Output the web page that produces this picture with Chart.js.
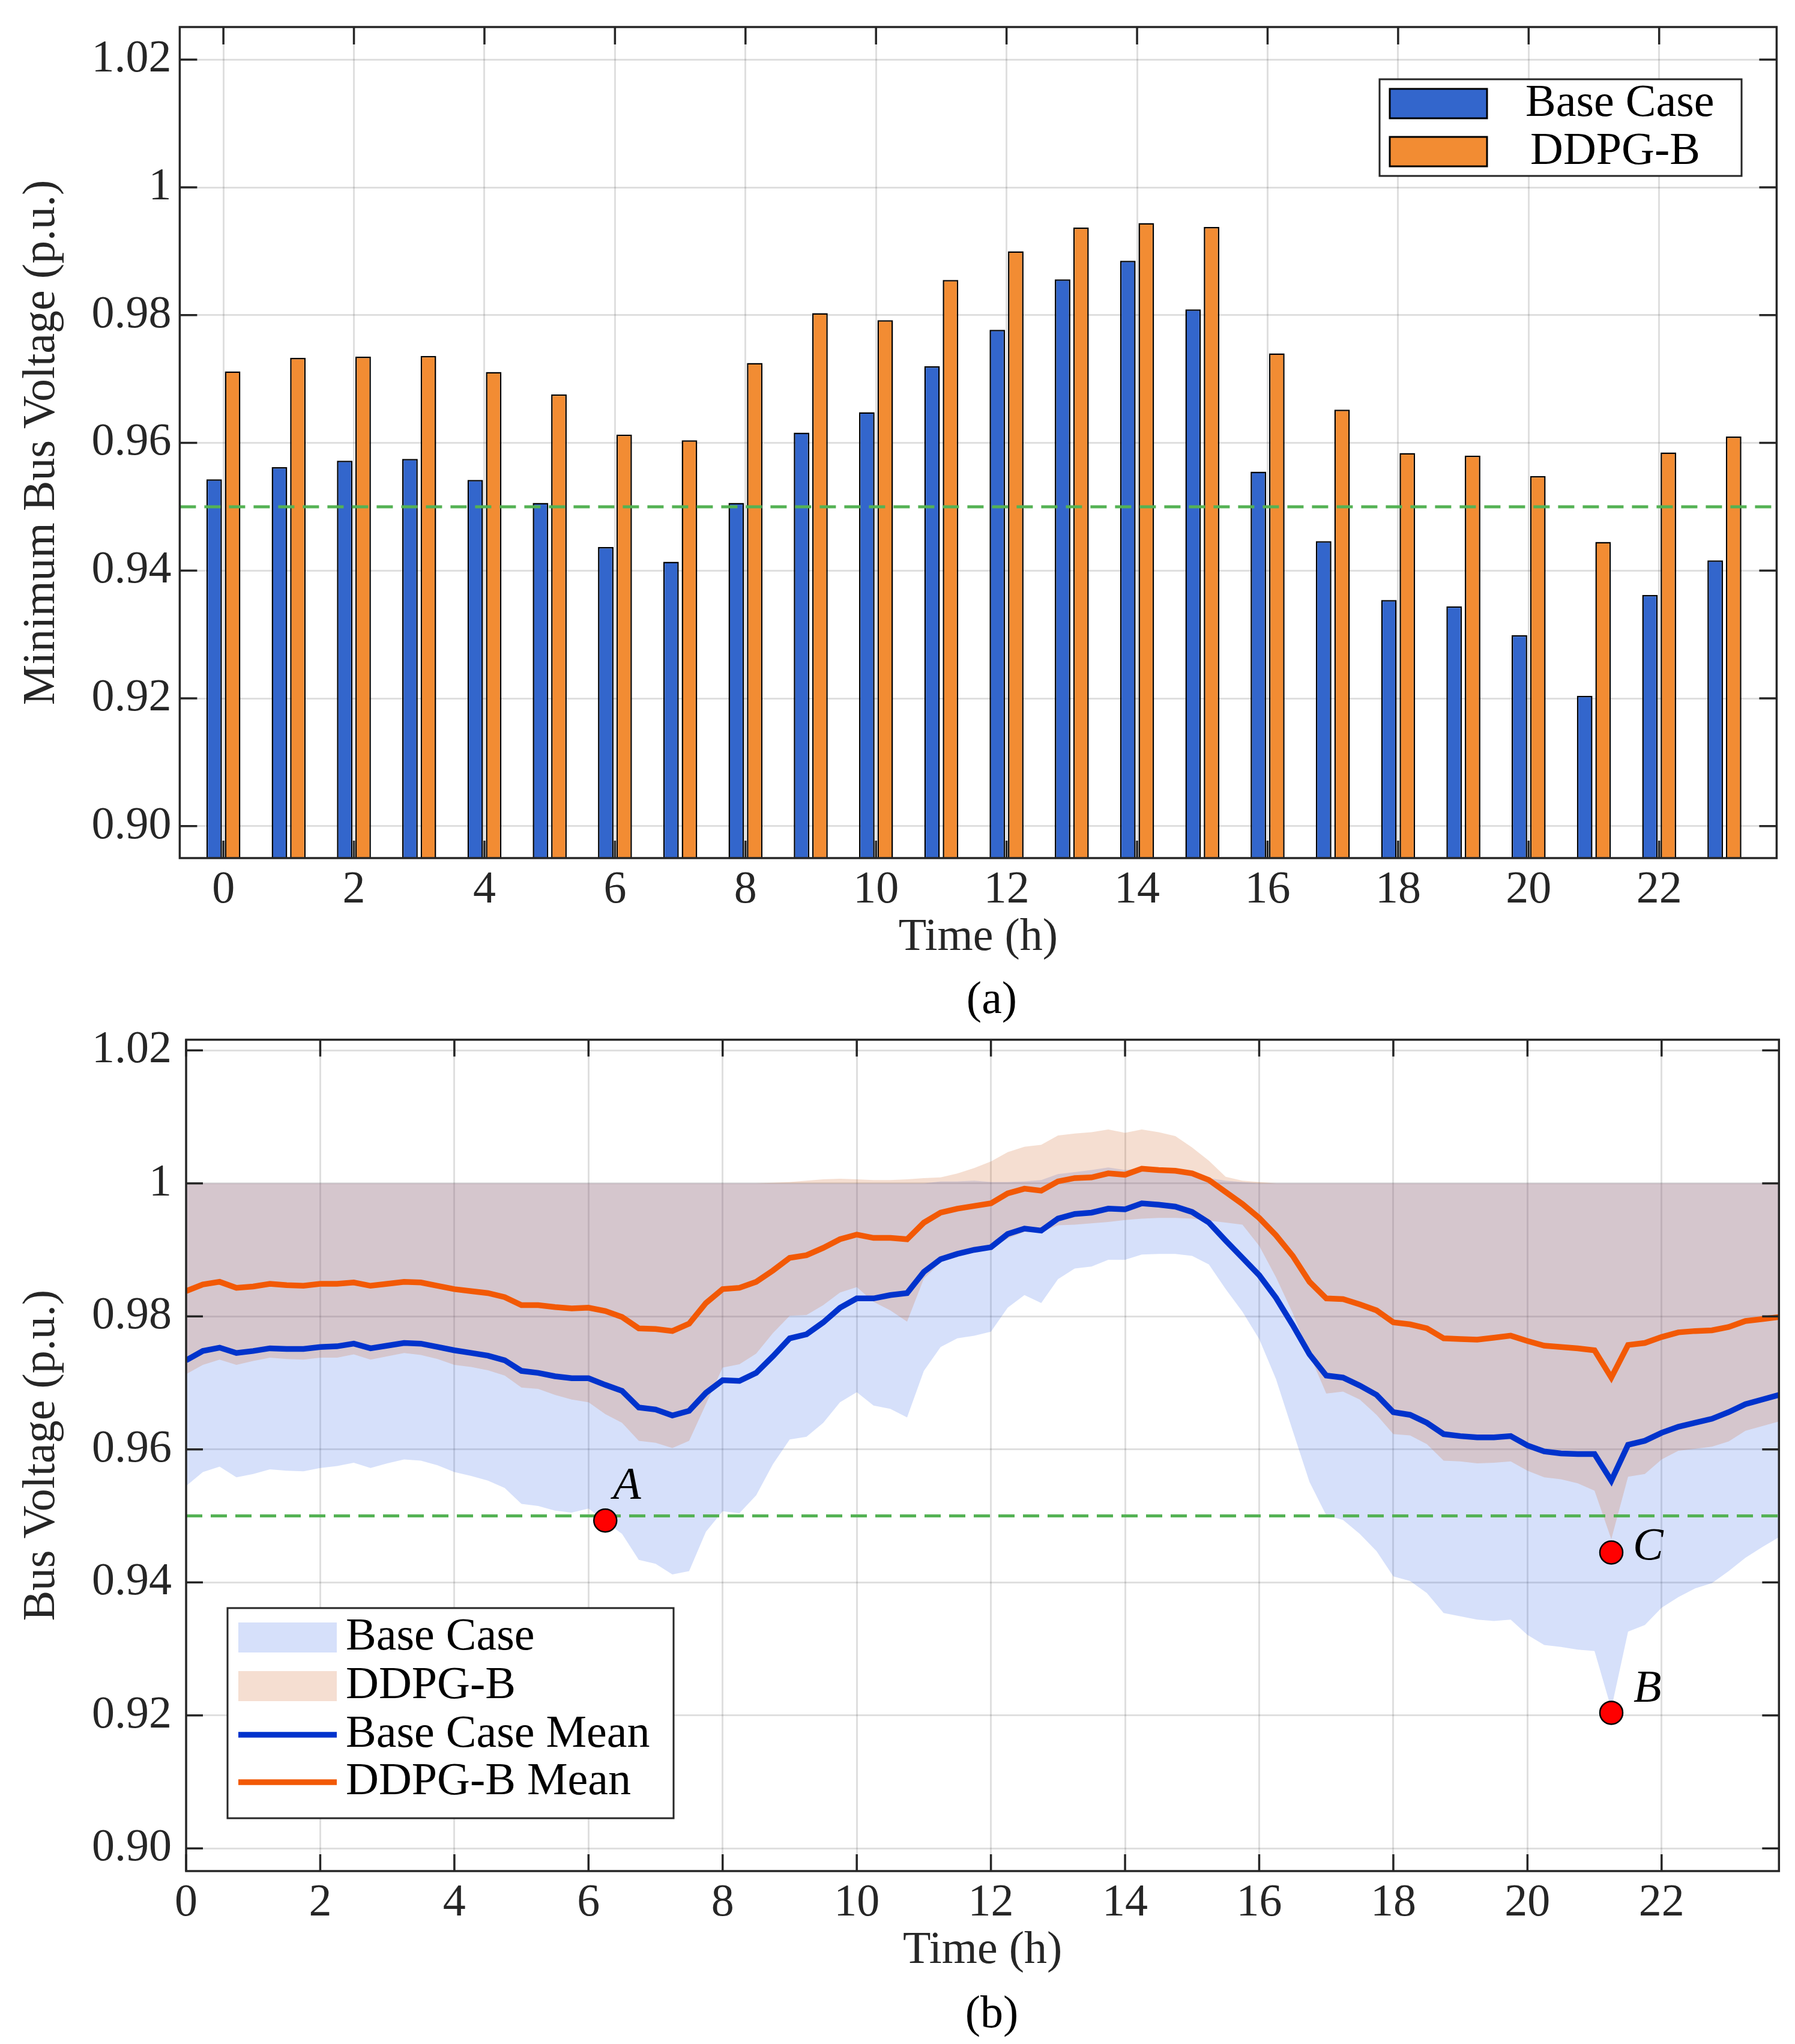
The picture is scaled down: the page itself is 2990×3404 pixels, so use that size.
<!DOCTYPE html>
<html>
<head>
<meta charset="utf-8">
<title>Minimum bus voltage and bus voltage bands</title>
<script src="https://cdn.jsdelivr.net/npm/chart.js@4.4.1/dist/chart.umd.min.js"></script>
<style>
  html, body { margin: 0; padding: 0; background: #ffffff; }
  #wrapA { position: absolute; left: 0; top: 0; width: 2990px; height: 1710px; }
  #wrapB { position: absolute; left: 0; top: 1710px; width: 2990px; height: 1694px; }
  canvas { display: block; }
</style>
</head>
<body>
<div id="wrapA"><canvas id="chartA"></canvas></div>
<div id="wrapB"><canvas id="chartB"></canvas></div>
<script>
// ---------------- DATA ----------------
// (a) hourly minimum bus voltage
const barHours = [0,1,2,3,4,5,6,7,8,9,10,11,12,13,14,15,16,17,18,19,20,21,22,23];
const baseMinV = [0.9543,0.9562,0.9572,0.9575,0.9542,0.9506,0.9437,0.9414,0.9506,0.9616,0.9648,0.9720,
                  0.9777,0.9856,0.9885,0.9809,0.9555,0.9446,0.9354,0.9344,0.9299,0.9204,0.9362,0.9416];
const ddpgMinV = [0.9712,0.9733,0.9735,0.9736,0.9711,0.9676,0.9613,0.9604,0.9725,0.9803,0.9792,0.9855,
                  0.9900,0.9937,0.9944,0.9938,0.9740,0.9652,0.9584,0.9580,0.9548,0.9445,0.9585,0.9610];

// (b) 15-minute bus voltage statistics
const hours = [0,0.25,0.5,0.75,1,1.25,1.5,1.75,2,2.25,2.5,2.75,3,3.25,3.5,3.75,
               4,4.25,4.5,4.75,5,5.25,5.5,5.75,6,6.25,6.5,6.75,7,7.25,7.5,7.75,
               8,8.25,8.5,8.75,9,9.25,9.5,9.75,10,10.25,10.5,10.75,11,11.25,11.5,11.75,
               12,12.25,12.5,12.75,13,13.25,13.5,13.75,14,14.25,14.5,14.75,15,15.25,15.5,15.75,
               16,16.25,16.5,16.75,17,17.25,17.5,17.75,18,18.25,18.5,18.75,19,19.25,19.5,19.75,
               20,20.25,20.5,20.75,21,21.25,21.5,21.75,22,22.25,22.5,22.75,23,23.25,23.5,23.75];

const baseMean = [0.9734,0.9748,0.9753,0.9745,0.9748,0.9752,0.9751,0.9751,
                  0.9754,0.9755,0.9759,0.9752,0.9756,0.9760,0.9759,0.9754,
                  0.9749,0.9745,0.9741,0.9734,0.9718,0.9715,0.9710,0.9707,
                  0.9707,0.9697,0.9688,0.9663,0.9660,0.9651,0.9658,0.9685,
                  0.9704,0.9703,0.9715,0.9740,0.9767,0.9773,0.9791,0.9813,
                  0.9827,0.9827,0.9832,0.9835,0.9867,0.9886,0.9894,0.9900,
                  0.9904,0.9924,0.9932,0.9929,0.9947,0.9954,0.9956,0.9962,
                  0.9961,0.9970,0.9968,0.9965,0.9957,0.9941,0.9914,0.9888,
                  0.9862,0.9828,0.9787,0.9743,0.9711,0.9708,0.9696,0.9682,
                  0.9656,0.9652,0.9640,0.9623,0.9620,0.9618,0.9618,0.9620,
                  0.9606,0.9597,0.9594,0.9593,0.9593,0.9553,0.9607,0.9613,
                  0.9625,0.9634,0.9640,0.9646,0.9656,0.9668,0.9675,0.9682];

const ddpgMean = [0.9838,0.9848,0.9852,0.9843,0.9845,0.9849,0.9847,0.9846,
                  0.9849,0.9849,0.9851,0.9846,0.9849,0.9852,0.9851,0.9846,
                  0.9841,0.9838,0.9835,0.9829,0.9817,0.9817,0.9814,0.9812,
                  0.9813,0.9808,0.9799,0.9782,0.9781,0.9778,0.9789,0.9820,
                  0.9841,0.9843,0.9852,0.9869,0.9888,0.9892,0.9903,0.9916,
                  0.9923,0.9918,0.9918,0.9916,0.9941,0.9956,0.9962,0.9966,
                  0.9970,0.9985,0.9992,0.9989,1.0003,1.0008,1.0009,1.0015,
                  1.0013,1.0022,1.0020,1.0019,1.0015,1.0005,0.9987,0.9969,
                  0.9948,0.9922,0.9891,0.9852,0.9827,0.9826,0.9818,0.9809,
                  0.9791,0.9788,0.9782,0.9767,0.9766,0.9765,0.9768,0.9771,
                  0.9763,0.9756,0.9754,0.9752,0.9749,0.9708,0.9757,0.9760,
                  0.9769,0.9776,0.9778,0.9779,0.9784,0.9793,0.9796,0.9799];

const baseUpper = [1,1,1,1,1,1,1,1, 1,1,1,1,1,1,1,1,
                   1,1,1,1,1,1,1,1, 1,1,1,1,1,1,1,1,
                   1,1,1,1,1,1,1,1, 1,1,1,1,1,1.0003,1.0003,1.0004,
                   1.0002,1.0002,1.0003,1.0005,1.0014,1.0017,1.0020,1.0024,
                   1.0020,1.0023,1.0021,1.0019,1.0014,1.0008,1.0004,1.0002,
                   1,1,1,1,1,1,1,1, 1,1,1,1,1,1,1,1,
                   1,1,1,1,1,1,1,1, 1,1,1,1,1,1,1,1];

const baseLower = [0.9545,0.9566,0.9574,0.9558,0.9563,0.9570,0.9568,0.9567,
                   0.9572,0.9575,0.9580,0.9572,0.9579,0.9585,0.9583,0.9576,
                   0.9566,0.9560,0.9553,0.9542,0.9518,0.9515,0.9508,0.9505,
                   0.9511,0.9492,0.9473,0.9434,0.9428,0.9412,0.9417,0.9476,
                   0.9507,0.9504,0.9531,0.9578,0.9615,0.9619,0.9640,0.9671,
                   0.9686,0.9666,0.9661,0.9648,0.9718,0.9754,0.9767,0.9771,
                   0.9777,0.9813,0.9832,0.9820,0.9856,0.9872,0.9875,0.9885,
                   0.9885,0.9893,0.9894,0.9894,0.9891,0.9878,0.9841,0.9807,
                   0.9766,0.9706,0.9628,0.9551,0.9501,0.9494,0.9473,0.9447,
                   0.9409,0.9402,0.9384,0.9354,0.9349,0.9344,0.9342,0.9344,
                   0.9321,0.9306,0.9303,0.9299,0.9297,0.9210,0.9326,0.9336,
                   0.9362,0.9378,0.9391,0.9399,0.9417,0.9437,0.9453,0.9468];

const ddpgUpper = [1,1,1,1,1,1,1,1, 1,1,1,1,1,1,1,1,
                   1,1,1,1,1,1,1,1, 1,1,1,1,1,1,1,1,
                   1,1,1,1.0001,1.0002,1.0004,1.0006,1.0007,
                   1.0006,1.0005,1.0005,1.0006,1.0008,1.0009,1.0015,1.0023,
                   1.0033,1.0047,1.0055,1.0058,1.0072,1.0075,1.0077,1.0081,
                   1.0076,1.0081,1.0077,1.0071,1.0054,1.0034,1.0010,1.0004,
                   1.0002,1,1,1,1,1,1,1, 1,1,1,1,1,1,1,1,
                   1,1,1,1,1,1,1,1, 1,1,1,1,1,1,1,1];

const ddpgLower = [0.9713,0.9727,0.9735,0.9727,0.9733,0.9738,0.9736,0.9735,
                   0.9738,0.9738,0.9743,0.9735,0.9740,0.9745,0.9742,0.9736,
                   0.9727,0.9724,0.9719,0.9711,0.9693,0.9691,0.9682,0.9675,
                   0.9671,0.9653,0.9640,0.9613,0.9610,0.9602,0.9613,0.9668,
                   0.9723,0.9728,0.9744,0.9775,0.9801,0.9802,0.9817,0.9836,
                   0.9844,0.9822,0.9809,0.9792,0.9857,0.9881,0.9892,0.9897,
                   0.9902,0.9917,0.9927,0.9927,0.9937,0.9938,0.9940,0.9942,
                   0.9945,0.9947,0.9948,0.9948,0.9947,0.9944,0.9941,0.9938,
                   0.9906,0.9859,0.9805,0.9743,0.9684,0.9687,0.9675,0.9652,
                   0.9623,0.9621,0.9608,0.9583,0.9582,0.9579,0.9580,0.9582,
                   0.9568,0.9558,0.9555,0.9549,0.9538,0.9465,0.9559,0.9563,
                   0.9585,0.9598,0.9601,0.9604,0.9612,0.9628,0.9635,0.9642];

// marked points A, B, C
const markerLabels = ['A', 'B', 'C'];
const markerX = [6.25, 21.25, 21.25];
const markerY = [0.9493, 0.9204, 0.9445];

// limits / ticks
const V_LIMIT = 0.95;
const xRangeA = [-0.669, 23.80];
const xRangeB = [0, 23.75];
const yRangeA = [0.895, 1.0251];
const yRangeB = [0.8966, 1.0216];
const xTickValues = [0, 2, 4, 6, 8, 10, 12, 14, 16, 18, 20, 22];
const yTickValues = [0.90, 0.92, 0.94, 0.96, 0.98, 1.00, 1.02];
const yTickLabels = ['0.90', '0.92', '0.94', '0.96', '0.98', '1', '1.02'];

// ---------------- STYLE ----------------
const FAMILY = "'Liberation Serif', 'Times New Roman', serif";
const INK = '#262626';
const GRID = 'rgba(38,38,38,0.15)';
const GREEN = 'rgb(84,178,84)';
const BAR_BLUE = '#3366CC';
const BAR_ORANGE = '#F28C33';
const MEAN_BLUE = '#0033CC';
const MEAN_ORANGE = '#F25905';
const BAND_BLUE = 'rgba(51,102,230,0.2)';
const BAND_ORANGE = 'rgba(204,89,26,0.2)';
const FS = 76;

Chart.defaults.font.family = FAMILY;
Chart.defaults.font.size = FS;
Chart.defaults.color = INK;

function zeroPad(s) { s.paddingTop = 0; s.paddingBottom = 0; s.paddingLeft = 0; s.paddingRight = 0; }
function xy(xs, ys) { return xs.map((x, i) => ({ x: x, y: ys[i] })); }

// MATLAB-like frame, inward ticks on four sides, legend, captions and point labels
const matlabFrame = {
  id: 'matlabFrame',
  afterDatasetsDraw(chart, args, o) {
    const { ctx, chartArea: a } = chart;
    const xs = chart.scales.x, ys = chart.scales.y;
    ctx.save();
    ctx.strokeStyle = INK;
    ctx.lineWidth = 3.5;
    ctx.lineCap = 'butt';
    ctx.beginPath();
    const L = o.tickLen;
    xs.ticks.forEach(t => {
      const px = xs.getPixelForValue(t.value);
      ctx.moveTo(px, a.bottom); ctx.lineTo(px, a.bottom - L);
      ctx.moveTo(px, a.top); ctx.lineTo(px, a.top + L);
    });
    ys.ticks.forEach(t => {
      const py = ys.getPixelForValue(t.value);
      ctx.moveTo(a.left, py); ctx.lineTo(a.left + L, py);
      ctx.moveTo(a.right, py); ctx.lineTo(a.right - L, py);
    });
    ctx.stroke();
    ctx.strokeRect(a.left, a.top, a.right - a.left, a.bottom - a.top);
    ctx.restore();
  },
  afterDraw(chart, args, o) {
    const ctx = chart.ctx;
    ctx.save();
    // point labels
    if (o.pointLabels) {
      const meta = chart.getDatasetMeta(o.pointLabels.dataset);
      ctx.font = 'italic ' + FS + 'px ' + FAMILY;
      ctx.fillStyle = '#000';
      ctx.textAlign = 'left';
      ctx.textBaseline = 'alphabetic';
      o.pointLabels.texts.forEach((txt, i) => {
        const el = meta.data[i];
        const off = o.pointLabels.offsets[i];
        ctx.fillText(txt, el.x + off[0], el.y + off[1]);
      });
    }
    // legend
    if (o.legend) {
      const g = o.legend;
      ctx.fillStyle = '#ffffff';
      ctx.fillRect(g.box[0], g.box[1], g.box[2], g.box[3]);
      g.items.forEach(it => {
        const ds = chart.data.datasets[it.ds];
        if (it.kind === 'bar') {
          ctx.fillStyle = ds.backgroundColor;
          ctx.fillRect(it.sw[0], it.sw[1], it.sw[2], it.sw[3]);
          ctx.strokeStyle = '#000';
          ctx.lineWidth = 3;
          ctx.strokeRect(it.sw[0], it.sw[1], it.sw[2], it.sw[3]);
        } else if (it.kind === 'band') {
          ctx.fillStyle = ds.backgroundColor;
          ctx.fillRect(it.sw[0], it.sw[1], it.sw[2], it.sw[3]);
        } else {
          ctx.strokeStyle = ds.borderColor;
          ctx.lineWidth = ds.borderWidth;
          ctx.beginPath();
          ctx.moveTo(it.sw[0], it.sw[1]);
          ctx.lineTo(it.sw[0] + it.sw[2], it.sw[1]);
          ctx.stroke();
        }
        ctx.fillStyle = '#000';
        ctx.font = FS + 'px ' + FAMILY;
        ctx.textAlign = 'left';
        ctx.textBaseline = 'middle';
        ctx.fillText(ds.label, it.tx, it.ty);
      });
      ctx.strokeStyle = INK;
      ctx.lineWidth = 3;
      ctx.strokeRect(g.box[0], g.box[1], g.box[2], g.box[3]);
    }
    // caption
    if (o.caption) {
      ctx.fillStyle = '#000';
      ctx.font = FS + 'px ' + FAMILY;
      ctx.textAlign = 'center';
      ctx.textBaseline = 'middle';
      ctx.fillText(o.caption.text, o.caption.x, o.caption.y);
    }
    ctx.restore();
  }
};

function yScale(range, width, pad) {
  return {
    type: 'linear', position: 'left', min: range[0], max: range[1],
    afterBuildTicks: s => { s.ticks = yTickValues.map(v => ({ value: v })); },
    afterFit: s => { s.width = width; zeroPad(s); },
    grid: { color: GRID, lineWidth: 3, drawTicks: false },
    border: { display: false },
    ticks: { padding: pad, color: INK, font: { size: FS, lineHeight: 1 }, autoSkip: false,
             callback: (v, i) => yTickLabels[i] },
    title: { display: true, color: INK, font: { size: FS, lineHeight: 1.2 }, padding: { top: 24, bottom: 0 } }
  };
}
function xScale(range, height, pad) {
  return {
    type: 'linear', position: 'bottom', min: range[0], max: range[1], offset: false,
    afterBuildTicks: s => { s.ticks = xTickValues.map(v => ({ value: v })); },
    afterFit: s => { s.height = height; zeroPad(s); },
    grid: { color: GRID, lineWidth: 3, drawTicks: false, offset: false },
    border: { display: false },
    ticks: { padding: pad, color: INK, font: { size: FS, lineHeight: 1 }, autoSkip: false, maxRotation: 0,
             callback: v => String(v) },
    title: { display: true, text: 'Time (h)', color: INK, font: { size: FS, lineHeight: 1.2 }, padding: { top: 0, bottom: 0 } }
  };
}

// ---------------- CHART (a) ----------------
const sxA = xScale(xRangeA, 178.6, 16);
const syA = yScale(yRangeA, 299.4, 14);
syA.title.text = 'Minimum Bus Voltage (p.u.)';

new Chart(document.getElementById('chartA'), {
  type: 'bar',
  data: {
    datasets: [
      { type: 'line', label: 'Voltage limit', data: [{ x: xRangeA[0], y: V_LIMIT }, { x: xRangeA[1], y: V_LIMIT }],
        borderColor: GREEN, borderWidth: 5, borderDash: [27, 14], pointRadius: 0, order: 0 },
      { label: 'Base Case', data: xy(barHours, baseMinV), backgroundColor: BAR_BLUE, borderColor: '#000',
        borderWidth: 2.5, categoryPercentage: 0.565, barPercentage: 0.843, order: 1 },
      { label: 'DDPG-B', data: xy(barHours, ddpgMinV), backgroundColor: BAR_ORANGE, borderColor: '#000',
        borderWidth: 2.5, categoryPercentage: 0.565, barPercentage: 0.843, order: 2 }
    ]
  },
  options: {
    responsive: true, maintainAspectRatio: false, animation: false,
    layout: { padding: { left: 0, right: 30.6, top: 45, bottom: 102.4 } },
    plugins: {
      legend: { display: false }, tooltip: { enabled: false },
      matlabFrame: {
        tickLen: 29,
        legend: { box: [2298, 132, 603, 161], items: [
          { ds: 1, kind: 'bar', sw: [2315, 148, 162, 49], tx: 2541, ty: 173 },
          { ds: 2, kind: 'bar', sw: [2315, 228, 162, 49], tx: 2549, ty: 253 } ] },
        caption: { text: '(a)', x: 1652, y: 1667 }
      }
    },
    scales: { x: sxA, y: syA }
  },
  plugins: [matlabFrame]
});

// ---------------- CHART (b) ----------------
const sxB = xScale(xRangeB, 178.6, 16);
const syB = yScale(yRangeB, 310, 24);
syB.title.text = 'Bus Voltage (p.u.)';

new Chart(document.getElementById('chartB'), {
  type: 'line',
  data: {
    datasets: [
      { label: 'Marked points', data: xy(markerX, markerY), showLine: false, pointRadius: 19,
        pointBackgroundColor: '#FF0000', pointBorderColor: '#000', pointBorderWidth: 2.5, order: 0 },
      { label: 'Base Case Mean', data: xy(hours, baseMean), borderColor: MEAN_BLUE, borderWidth: 9.5,
        pointRadius: 0, fill: false, order: 1 },
      { label: 'DDPG-B Mean', data: xy(hours, ddpgMean), borderColor: MEAN_ORANGE, borderWidth: 9.5,
        pointRadius: 0, fill: false, order: 2 },
      { label: 'Voltage limit', data: [{ x: xRangeB[0], y: V_LIMIT }, { x: xRangeB[1], y: V_LIMIT }],
        borderColor: GREEN, borderWidth: 5, borderDash: [27, 14], pointRadius: 0, fill: false, order: 3 },
      { label: 'DDPG-B', data: xy(hours, ddpgUpper), borderColor: 'rgba(0,0,0,0)', borderWidth: 0,
        backgroundColor: BAND_ORANGE, pointRadius: 0, fill: '+1', order: 4 },
      { label: 'DDPG-B lower', data: xy(hours, ddpgLower), borderColor: 'rgba(0,0,0,0)', borderWidth: 0,
        pointRadius: 0, fill: false, order: 5 },
      { label: 'Base Case', data: xy(hours, baseUpper), borderColor: 'rgba(0,0,0,0)', borderWidth: 0,
        backgroundColor: BAND_BLUE, pointRadius: 0, fill: '+1', order: 6 },
      { label: 'Base Case lower', data: xy(hours, baseLower), borderColor: 'rgba(0,0,0,0)', borderWidth: 0,
        pointRadius: 0, fill: false, order: 7 }
    ]
  },
  options: {
    responsive: true, maintainAspectRatio: false, animation: false,
    layout: { padding: { left: 0, right: 26.7, top: 21, bottom: 109.4 } },
    elements: { line: { tension: 0 } },
    plugins: {
      legend: { display: false }, tooltip: { enabled: false },
      filler: { propagate: false },
      matlabFrame: {
        tickLen: 28,
        pointLabels: { dataset: 0, texts: markerLabels, offsets: [[13, -36], [37, -18], [36, 12]] },
        legend: { box: [379, 968, 743, 350], items: [
          { ds: 6, kind: 'band', sw: [397, 992, 164, 50], tx: 576, ty: 1017 },
          { ds: 4, kind: 'band', sw: [397, 1073, 164, 50], tx: 576, ty: 1098 },
          { ds: 1, kind: 'line', sw: [397, 1179, 164], tx: 576, ty: 1179 },
          { ds: 2, kind: 'line', sw: [397, 1258, 164], tx: 576, ty: 1258 } ] },
        caption: { text: '(b)', x: 1652, y: 1646 }
      }
    },
    scales: { x: sxB, y: syB }
  },
  plugins: [matlabFrame]
});
</script>
</body>
</html>
